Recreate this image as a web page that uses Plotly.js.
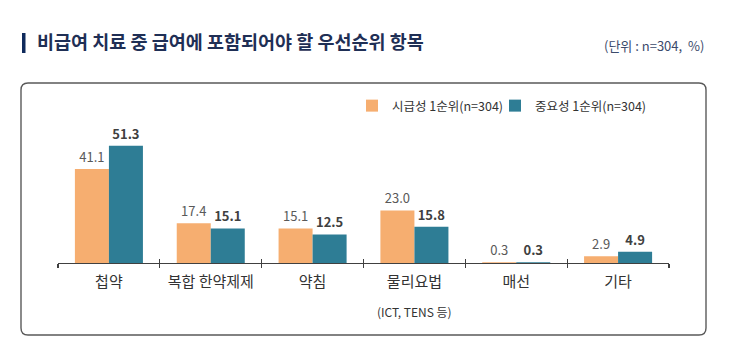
<!DOCTYPE html>
<html>
<head>
<meta charset="utf-8">
<script src="https://cdn.plot.ly/plotly-3.0.1.min.js"></script>
<style>
html,body{margin:0;padding:0;background:#fff;}
#chart{width:736px;height:352px;}
</style>
</head>
<body>
<div id="chart"></div>
<script>
const categories = ['첩약', '복합 한약제제', '약침', '물리요법', '매선', '기타'];
const subLabel = '(ICT, TENS 등)';
const urgencyValues = [41.1, 17.4, 15.1, 23.0, 0.3, 2.9];
const importanceValues = [51.3, 15.1, 12.5, 15.8, 0.3, 4.9];
const seriesNames = ['시급성 1순위(n=304)', '중요성 1순위(n=304)'];
const titleText = '비급여 치료 중 급여에 포함되어야 할 우선순위 항목';
const unitText = '(단위 : n=304,  %)';

const FONT = '"Noto Sans CJK KR", "Noto Sans", sans-serif';
const L = 58, R = 669, T = 100, B = 263;
const PX = x => (x - L) / (R - L);
const PY = y => (B - y) / (B - T);

function roundedBox(x0, y0, x1, y1, r) {
  const p = (x, y) => PX(x).toFixed(5) + ',' + PY(y).toFixed(5);
  return 'M' + p(x0 + r, y0) + ' L' + p(x1 - r, y0) + ' Q' + p(x1, y0) + ' ' + p(x1, y0 + r) +
    ' L' + p(x1, y1 - r) + ' Q' + p(x1, y1) + ' ' + p(x1 - r, y1) +
    ' L' + p(x0 + r, y1) + ' Q' + p(x0, y1) + ' ' + p(x0, y1 - r) +
    ' L' + p(x0, y0 + r) + ' Q' + p(x0, y0) + ' ' + p(x0 + r, y0) + ' Z';
}

const traces = [
  {
    type: 'bar', name: seriesNames[0], x: categories, y: urgencyValues,
    marker: {color: '#f6ae70'},
    texttemplate: '%{y:.1f}', textposition: 'outside', cliponaxis: false,
    textfont: {family: FONT, size: 13, color: '#595959'},
    hoverinfo: 'skip', legend: 'legend'
  },
  {
    type: 'bar', name: seriesNames[1], x: categories, y: importanceValues,
    marker: {color: '#2e7d95'},
    texttemplate: '<b>%{y:.1f}</b>', textposition: 'outside', cliponaxis: false,
    textfont: {family: FONT, size: 13, color: '#404040'},
    hoverinfo: 'skip', legend: 'legend2'
  },
  {
    type: 'scatter', mode: 'markers', x: categories, y: categories.map(() => null),
    xaxis: 'x2', showlegend: false, hoverinfo: 'skip'
  }
];

const legendStyle = (left) => ({
  orientation: 'h', x: PX(left), xanchor: 'left', y: PY(106), yanchor: 'middle',
  font: {family: FONT, size: 12.5, color: '#333333'},
  bgcolor: 'rgba(0,0,0,0)', itemwidth: 30
});

const layout = {
  width: 736, height: 352,
  margin: {l: L, r: 736 - R, t: T, b: 352 - B, pad: 0},
  paper_bgcolor: '#ffffff', plot_bgcolor: 'rgba(0,0,0,0)',
  font: {family: FONT, color: '#404040'},
  barmode: 'group', bargap: 0.332, bargroupgap: 0,
  showlegend: true,
  legend: legendStyle(352),
  legend2: legendStyle(495),
  title: {
    text: '<b>' + titleText + '</b>',
    xref: 'container', yref: 'container',
    x: 37 / 736, xanchor: 'left', y: 1 - 43 / 352, yanchor: 'middle',
    font: {family: FONT, size: 18.5, color: '#1f2f55'}
  },
  xaxis: {
    type: 'category', range: [-0.5, 5.5],
    showline: true, linecolor: '#404040', linewidth: 1.3,
    ticks: 'outside', ticklen: 4, tickwidth: 1.3, tickcolor: '#404040', tickson: 'boundaries',
    ticklabelstandoff: 5,
    tickfont: {family: FONT, size: 15, color: '#333333'},
    showgrid: false, zeroline: false, fixedrange: true
  },
  xaxis2: {
    type: 'category', overlaying: 'x', anchor: 'y', side: 'bottom',
    categoryorder: 'array', categoryarray: categories, range: [-0.5, 5.5],
    ticks: 'inside', ticklen: 4, tickwidth: 1.3, tickcolor: '#404040', tickson: 'boundaries',
    showticklabels: false, showline: false, showgrid: false, zeroline: false
  },
  yaxis: {range: [0, 71.27], visible: false, showgrid: false, zeroline: false, fixedrange: true},
  shapes: [
    {type: 'rect', xref: 'paper', yref: 'paper', x0: PX(22), x1: PX(25.5), y0: PY(33), y1: PY(53),
     fillcolor: '#0f2a5c', line: {width: 0}},
    {type: 'path', xref: 'paper', yref: 'paper', path: roundedBox(21, 83, 706, 335, 7),
     line: {color: '#5a5a5a', width: 1.4}, fillcolor: 'rgba(0,0,0,0)'}
  ],
  annotations: [
    {xref: 'paper', yref: 'paper', x: PX(706), y: PY(46), xanchor: 'right', yanchor: 'middle',
     text: unitText, showarrow: false, font: {family: FONT, size: 13, color: '#3b4a6b'}},
    {xref: 'x', yref: 'paper', x: categories[3], y: PY(311), xanchor: 'center', yanchor: 'middle',
     text: subLabel, showarrow: false, font: {family: FONT, size: 12, color: '#333333'}}
  ]
};

Plotly.newPlot('chart', traces, layout, {displayModeBar: false, staticPlot: true});
</script>
</body>
</html>
